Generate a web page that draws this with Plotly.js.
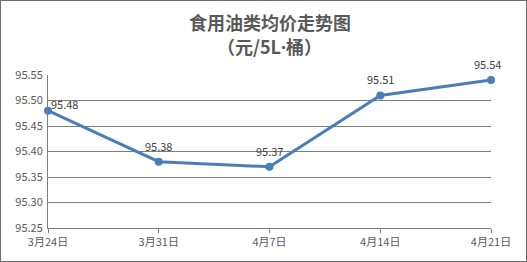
<!DOCTYPE html>
<html>
<head>
<meta charset="utf-8">
<script src="https://cdn.plot.ly/plotly-3.0.1.min.js"></script>
<style>
html,body{margin:0;padding:0;background:#fff;}
#frame{position:absolute;left:0;top:0;width:527px;height:262px;box-sizing:border-box;border:1px solid #6e6e6e;}
#chart{position:absolute;left:0;top:0;width:525px;height:260px;}
</style>
</head>
<body>
<div id="frame"><div id="chart"></div></div>
<script>
var categories = ["3月24日", "3月31日", "4月7日", "4月14日", "4月21日"];
var prices = [95.48, 95.38, 95.37, 95.51, 95.54];
var yTicks = [95.25, 95.30, 95.35, 95.40, 95.45, 95.50, 95.55];
var titleLines = ["食用油类均价走势图", "（元/5L<span style=\"font-family:'Noto Sans'\">·</span>桶）"];

var font = "'Microsoft YaHei','Noto Sans CJK SC','Noto Sans',sans-serif";
var trace = {
  x: categories,
  y: prices,
  type: "scatter",
  mode: "lines+markers",
  line: {color: "#4a7ebb", width: 3},
  marker: {color: "#4a7ebb", size: 8},
  cliponaxis: false,
  hoverinfo: "none"
};

var annotations = prices.map(function(v, i) {
  return {
    x: categories[i], y: v, xref: "x", yref: "y",
    text: v.toFixed(2), showarrow: false,
    font: {family: font, size: 11, color: "#404040"},
    xshift: i === 0 ? 16 : (i === prices.length - 1 ? -4 : 0),
    yshift: i === 0 ? 7 : 16
  };
});
var titleShifts = [53, 29];
titleLines.forEach(function(t, i) {
  annotations.push({
    x: 0.5, y: 1, xref: "paper", yref: "paper",
    xanchor: "center", yanchor: "middle",
    yshift: titleShifts[i], showarrow: false,
    text: "<b>" + t + "</b>",
    font: {family: font, size: 18, color: "#595959"}
  });
});

var layout = {
  width: 525, height: 260,
  margin: {l: 47, r: 35, t: 74, b: 33},
  paper_bgcolor: "#fff", plot_bgcolor: "#fff",
  showlegend: false,
  xaxis: {
    type: "category",
    range: [0, categories.length - 1],
    showgrid: false,
    showline: true, linecolor: "#7f7f7f", linewidth: 1,
    ticks: "outside", ticklen: 4, tickcolor: "#7f7f7f",
    tickfont: {family: font, size: 11, color: "#595959"},
    fixedrange: true
  },
  yaxis: {
    range: [95.25, 95.55],
    tickvals: yTicks,
    ticktext: yTicks.map(function(t){return t.toFixed(2);}),
    showgrid: true, gridcolor: "#7f7f7f", gridwidth: 1,
    showline: true, linecolor: "#7f7f7f", linewidth: 1,
    zeroline: false,
    ticks: "", ticklabelstandoff: 2,
    tickfont: {family: font, size: 11, color: "#595959"},
    fixedrange: true
  },
  annotations: annotations
};

Plotly.newPlot("chart", [trace], layout, {staticPlot: true, displayModeBar: false});
</script>
</body>
</html>
